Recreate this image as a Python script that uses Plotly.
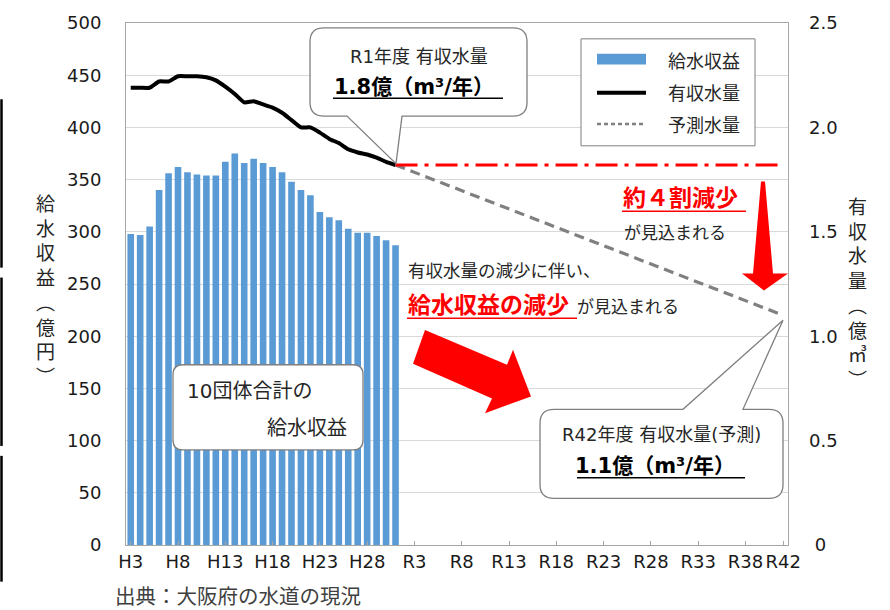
import plotly.graph_objects as go

# ---------------- data ----------------
years = [f"H{i}" for i in range(3, 31)] + [f"R{i}" for i in range(1, 43)]
tick_labels = ["H3", "H8", "H13", "H18", "H23", "H28", "R3", "R8", "R13",
               "R18", "R23", "R28", "R33", "R38", "R42"]

revenue_years = years[:29]            # H3 .. R1
revenue = [298, 297, 305, 340, 356, 362, 357, 355, 354, 354, 367, 375, 366, 370,
           366, 362, 357, 348, 340, 335, 319, 314, 311, 303, 299, 299, 296, 292, 287]

water = [2.19, 2.19, 2.19, 2.22, 2.22, 2.245, 2.245, 2.245, 2.24, 2.225, 2.195,
         2.16, 2.12, 2.125, 2.11, 2.095, 2.07, 2.035, 2.0, 2.0, 1.975, 1.945,
         1.925, 1.895, 1.88, 1.87, 1.855, 1.835, 1.82]

forecast_years = ["R1", "R42"]
forecast = [1.82, 1.10]
ref_level = [1.82, 1.82]

left_ticks = [0, 50, 100, 150, 200, 250, 300, 350, 400, 450, 500]
right_tickvals = [0, 0.5, 1.0, 1.5, 2.0, 2.5]
right_ticktext = ["\u20080", "0.5", "1.0", "1.5", "2.0", "2.5"]

# ---------------- layout geometry ----------------
W, H = 890, 610
L, R, T, B = 126, 788, 18, 545


def px(x, y):
    return (x - L) / (R - L), (B - y) / (B - T)


def P(x, y):
    a, b = px(x, y)
    return f"{a:.5f},{b:.5f}"


def poly(points):
    s = "M " + P(*points[0])
    for p in points[1:]:
        s += " L " + P(*p)
    return s + " Z"


def rounded(x0, y0, x1, y1, r, top_ptr=None, bot_ptr=None):
    s = "M " + P(x0 + r, y0)
    if top_ptr:
        a, b, tip = top_ptr
        s += " L " + P(a, y0) + " L " + P(*tip) + " L " + P(b, y0)
    s += " L " + P(x1 - r, y0)
    s += " Q " + P(x1, y0) + " " + P(x1, y0 + r)
    s += " L " + P(x1, y1 - r)
    s += " Q " + P(x1, y1) + " " + P(x1 - r, y1)
    if bot_ptr:
        a, b, tip = bot_ptr  # a > b (right to left)
        s += " L " + P(a, y1) + " L " + P(*tip) + " L " + P(b, y1)
    s += " L " + P(x0 + r, y1)
    s += " Q " + P(x0, y1) + " " + P(x0, y1 - r)
    s += " L " + P(x0, y0 + r)
    s += " Q " + P(x0, y0) + " " + P(x0 + r, y0)
    return s + " Z"


FONT = "DejaVu Sans, Noto Sans CJK JP, sans-serif"
TXT = "#262626"

fig = go.Figure()

fig.add_trace(go.Bar(x=revenue_years, y=revenue, name="給水収益",
                     marker=dict(color="#5B9BD5", line=dict(width=0)),
                     showlegend=False))
fig.add_trace(go.Scatter(x=revenue_years, y=water, yaxis="y2", mode="lines",
                         name="有収水量", line=dict(color="black", width=4,
                                                   shape="spline", smoothing=0.5),
                         showlegend=False))
fig.add_trace(go.Scatter(x=forecast_years, y=forecast, yaxis="y2", mode="lines",
                         name="予測水量",
                         line=dict(color="#808080", width=3.2, dash="10px,6px"),
                         showlegend=False))
fig.add_trace(go.Scatter(x=forecast_years, y=ref_level, yaxis="y2", mode="lines",
                         line=dict(color="#FF0000", width=3,
                                   dash="22px,7px,4px,7px"),
                         showlegend=False))

shapes = []
# big diagonal red arrow
shapes.append(dict(type="path", xref="paper", yref="paper", layer="above",
                   path=poly([(425, 328), (507, 363), (513, 348), (531, 395),
                              (485, 412), (492, 397), (413, 362)]),
                   fillcolor="#FF0000", line=dict(width=0)))
# down red arrow
shapes.append(dict(type="path", xref="paper", yref="paper", layer="above",
                   path=poly([(761, 178), (765, 178), (773, 271), (788, 271),
                              (764, 288), (742, 271), (753, 271)]),
                   fillcolor="#FF0000", line=dict(width=0)))
# callout R1
shapes.append(dict(type="path", xref="paper", yref="paper", layer="above",
                   path=rounded(310, 23, 527, 112, 14,
                                bot_ptr=(402, 347, (396, 160))),
                   fillcolor="white", line=dict(color="#7F7F7F", width=1.3)))
# callout R42
shapes.append(dict(type="path", xref="paper", yref="paper", layer="above",
                   path=rounded(540, 408, 783, 498, 14,
                                top_ptr=(683, 743, (783, 318))),
                   fillcolor="white", line=dict(color="#7F7F7F", width=1.3)))
# 10団体 box
shapes.append(dict(type="path", xref="paper", yref="paper", layer="above",
                   path=rounded(173, 363, 363, 449, 10),
                   fillcolor="white", line=dict(color="#7F7F7F", width=1.3)))
# legend box
x0, y0 = px(581, 34)
x1, y1 = px(755, 142)
shapes.append(dict(type="rect", xref="paper", yref="paper", layer="above",
                   x0=x0, y0=y1, x1=x1, y1=y0, fillcolor="white",
                   line=dict(color="#7F7F7F", width=1)))
# legend samples
a0, b0 = px(597, 49)
a1, b1 = px(646, 60)
shapes.append(dict(type="rect", xref="paper", yref="paper", layer="above",
                   x0=a0, y0=b1, x1=a1, y1=b0, fillcolor="#5B9BD5",
                   line=dict(width=0)))
for yy, col, w, dash in [(88.5, "black", 4, "solid"), (120, "#808080", 2.5, "4px,3px")]:
    a0, bb = px(597, yy)
    a1, _ = px(646, yy)
    shapes.append(dict(type="line", xref="paper", yref="paper", layer="above",
                       x0=a0, x1=a1, y0=bb, y1=bb,
                       line=dict(color=col, width=w, dash=dash)))
# underlines
for (xa, xb, yy, col) in [(333, 503, 94, "black"), (577, 745, 477, "black"),
                          (622, 746, 208, "#FF0000"), (407, 577, 316, "#FF0000")]:
    a0, bb = px(xa, yy)
    a1, _ = px(xb, yy)
    shapes.append(dict(type="line", xref="paper", yref="paper", layer="above",
                       x0=a0, x1=a1, y0=bb, y1=bb, line=dict(color=col, width=1.5)))
# black edge segments at far left
for ya, yb in [(95, 265), (275, 445), (455, 582)]:
    a0, b0 = px(1.5, ya)
    _, b1 = px(1.5, yb)
    shapes.append(dict(type="line", xref="paper", yref="paper", layer="above",
                       x0=a0, x1=a0, y0=b0, y1=b1, line=dict(color="black", width=2.5)))

annotations = []


def txt(x, y, text, size, color=TXT, anchor="center"):
    a, b = px(x, y)
    annotations.append(dict(x=a, y=b, xref="paper", yref="paper", text=text,
                            showarrow=False, xanchor=anchor, yanchor="middle",
                            font=dict(family=FONT, size=size, color=color)))


txt(419, 52, "R1年度 有収水量", 18)
txt(414, 83, "<b>1.8億（m³/年）</b>", 21, "black")
txt(661, 433, "R42年度 有収水量(予測)", 18)
txt(655, 465, "<b>1.1億（m³/年）</b>", 21, "black")
txt(185, 390, "10団体合計の", 20, anchor="left")
txt(265, 427, "給水収益", 20, anchor="left")
txt(621, 195, "<b>約４割減少</b>", 23, "#FF0000", anchor="left")
txt(622, 230, "が見込まれる", 17, anchor="left")
txt(406, 268, "有収水量の減少に伴い、", 17.5, anchor="left")
txt(406, 303, "<b>給水収益の減少</b>", 23, "#FF0000", anchor="left")
txt(575, 305, "が見込まれる", 17, anchor="left")
txt(666, 57, "給水収益", 18, anchor="left")
txt(666, 89, "有収水量", 18, anchor="left")
txt(666, 121, "予測水量", 18, anchor="left")
txt(113, 597, "出典：大阪府の水道の現況", 20.5, "#404040", anchor="left")
txt(45, 288, "<br>".join(list("給水収益") + ["︵", "億", "円", "︶"]), 19)
txt(858, 291, "<br>".join(list("有収水量") + ["︵", "億", "㎥", "︶"]), 19)

fig.update_layout(
    width=W, height=H,
    margin=dict(l=L, r=W - R, t=T, b=H - B, pad=0),
    paper_bgcolor="white", plot_bgcolor="white",
    bargap=0.3,
    font=dict(family=FONT, color=TXT),
    xaxis=dict(type="category", categoryorder="array", categoryarray=years,
               range=[-0.5, len(years) - 0.5], tickmode="array",
               tickvals=tick_labels, ticktext=tick_labels, tickangle=0,
               showgrid=False, showline=True, linecolor="#A6A6A6", mirror=True,
               ticks="inside", ticklen=4, tickcolor="#A6A6A6",
               tickfont=dict(size=18, color="#1a1a1a"), fixedrange=True),
    yaxis=dict(range=[0, 500], tickmode="array", tickvals=left_ticks,
               showgrid=True, gridcolor="#D9D9D9", gridwidth=1,
               showline=True, linecolor="#A6A6A6", mirror=True, ticks="",
               tickfont=dict(size=18, color="#1a1a1a"), ticklabelstandoff=20,
               zeroline=False),
    yaxis2=dict(range=[0, 2.5], overlaying="y", side="right", tickmode="array",
                tickvals=right_tickvals, ticktext=right_ticktext, showgrid=False,
                showline=False, ticks="", zeroline=False,
                tickfont=dict(size=18, color="#1a1a1a"), ticklabelstandoff=20),
    shapes=shapes,
    annotations=annotations,
)

fig.write_html(
    "out.html",
    config={"displayModeBar": False},
    post_script="document.body.style.margin='0';document.body.style.padding='0';"
                "document.documentElement.style.overflow='hidden';",
)
